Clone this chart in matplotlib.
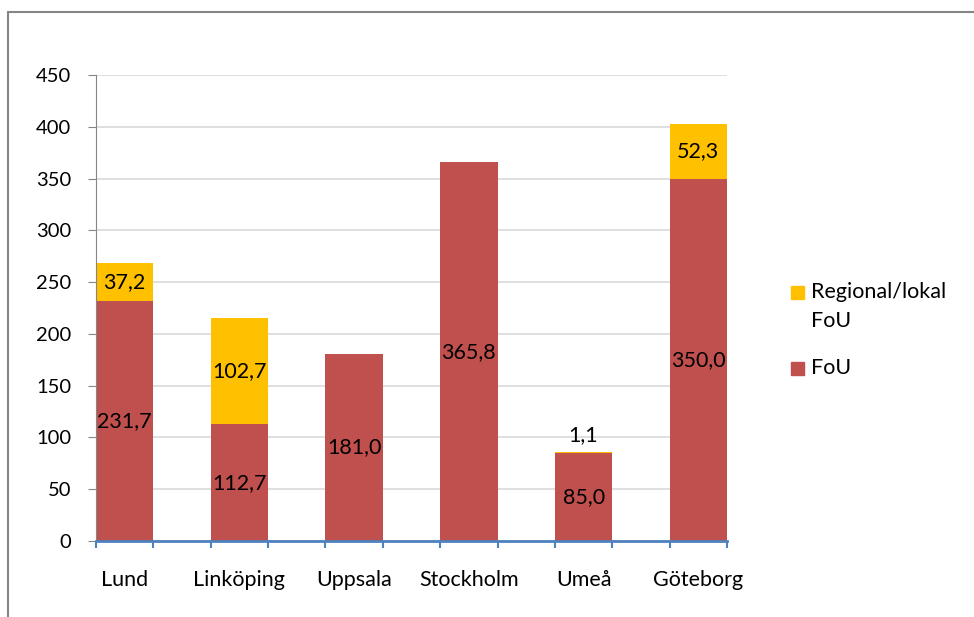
import matplotlib.pyplot as plt
from matplotlib.patches import Rectangle
import numpy as np

cities = ['Lund', 'Linköping', 'Uppsala', 'Stockholm', 'Umeå', 'Göteborg']
fou = [231.7, 112.7, 181.0, 365.8, 85.0, 350.0]
regional = [37.2, 102.7, 0.0, 0.0, 1.1, 52.3]
series_names = ['Regional/lokal\nFoU', 'FoU']
red = '#C0504D'
yellow = '#FFC000'

plt.rcParams['font.family'] = ['Lato', 'DejaVu Sans']
plt.rcParams['font.size'] = 13

W, H = 974, 617
fig = plt.figure(figsize=(W / 100, H / 100), dpi=100)
ax = fig.add_axes([96 / W, 76 / H, (727 - 96) / W, (541 - 75) / H])

x = np.arange(len(cities)) * 2
ax.bar(x, fou, width=1, align='edge', color=red, zorder=2)
ax.bar(x, regional, width=1, align='edge', bottom=fou, color=yellow, zorder=2)

def fmt(v):
    return f'{v:.1f}'.replace('.', ',')

for xi, f, r in zip(x, fou, regional):
    ax.text(xi + 0.5, f / 2, fmt(f), ha='center', va='center', fontsize=15.5, zorder=3)
    if r > 5:
        ax.text(xi + 0.5, f + r / 2, fmt(r), ha='center', va='center', fontsize=15.5, zorder=3)
    elif r > 0:
        ax.text(xi + 0.5, f + r + 16, fmt(r), ha='center', va='center', fontsize=15.5, zorder=3)

ax.set_xlim(0, 11)
ax.set_ylim(0, 450)
ax.set_yticks(np.arange(0, 451, 50))
ax.yaxis.grid(True, color='#D9D9D9', linewidth=1.2, zorder=0)
ax.set_axisbelow(True)

ax.set_xticks(np.arange(0, 12))
ax.set_xticklabels([])
ax.set_xticks(x + 0.5, minor=True)
ax.set_xticklabels(cities, minor=True)
ax.tick_params(axis='x', which='major', direction='out', length=5, color='#4F81BD', width=1.5)
ax.tick_params(axis='x', which='minor', length=0, pad=21, labelsize=15.5)
ax.tick_params(axis='y', direction='out', length=6, color='#868686', pad=12, labelsize=14.5)

for s in ['top', 'right']:
    ax.spines[s].set_visible(False)
ax.spines['left'].set_color('#868686')
ax.spines['bottom'].set_color('#4F81BD')
ax.spines['bottom'].set_linewidth(2)
ax.spines['bottom'].set_zorder(4)

# legend drawn by hand: marker lines up with the first text line
for name, col, ytop in zip(series_names, [yellow, red], [292, 368]):
    fig.add_artist(Rectangle((791 / W, 1 - (ytop + 6.5) / H), 13 / W, 13 / H,
                             transform=fig.transFigure, color=col))
    fig.text(811 / W, 1 - (ytop - 10) / H, name, ha='left', va='top',
             fontsize=15.5, linespacing=1.55)

fig.add_artist(Rectangle((8 / W, -0.1), 1.2, 0.1 + (H - 12) / H,
                         transform=fig.transFigure, fill=False,
                         edgecolor='#868686', linewidth=1.5))

fig.savefig('out.png', dpi=100)
